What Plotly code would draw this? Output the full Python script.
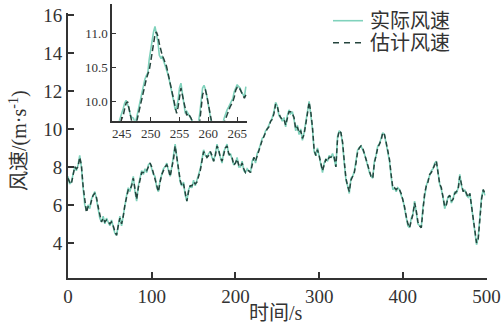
import plotly.graph_objects as go

# ---- main chart data (t in s, wind speed in m/s) ----
t_main = list(range(0, 500, 2))
actual = [7.5,7.1,7.2,7.7,8.0,7.8,8.1,8.6,8.0,6.9,
 6.0,5.7,6.0,5.8,6.3,6.5,6.7,6.3,5.8,5.3,
 5.1,5.4,5.0,5.3,5.1,4.9,5.2,4.8,4.5,4.4,
 5.0,5.4,4.9,5.5,6.0,6.5,6.9,6.7,7.1,7.5,
 6.7,6.2,7.0,7.4,7.8,7.6,7.9,7.7,8.1,8.2,
 7.9,7.6,7.5,6.9,6.7,7.3,7.6,7.9,8.0,8.2,
 7.8,7.5,8.0,8.5,9.2,8.5,7.8,7.2,7.0,7.2,
 6.5,6.2,6.8,7.0,6.9,7.3,7.0,7.3,7.5,7.9,
 8.4,8.9,8.6,8.5,8.7,8.8,8.5,8.3,8.7,9.2,
 8.8,8.5,8.2,8.8,9.0,9.2,8.6,8.7,8.4,8.1,
 8.2,8.5,8.0,8.0,8.3,7.8,7.7,7.9,7.8,7.7,
 8.3,8.5,8.2,8.7,8.9,9.2,9.5,9.6,9.9,10.0,
 10.2,10.4,10.6,10.9,11.4,11.2,10.7,10.6,10.4,10.6,
 10.1,10.7,11.0,10.8,10.9,10.5,9.9,10.2,9.7,10.0,
 9.4,9.8,10.5,10.9,11.45,10.8,10.0,8.8,8.6,9.0,
 8.5,8.1,7.7,8.2,8.4,8.3,8.6,8.5,8.7,8.4,
 8.0,9.6,9.9,9.8,9.2,8.2,7.3,7.0,6.6,7.4,
 7.5,7.75,8.3,8.9,9.0,9.1,8.9,8.7,8.4,8.0,
 7.7,7.5,7.4,8.3,8.6,9.1,9.2,9.5,9.8,9.7,
 9.25,8.9,8.3,7.5,6.8,6.9,6.7,6.9,6.8,6.5,
 6.3,5.8,5.4,4.9,4.8,5.3,5.5,6.2,5.6,5.0,
 4.9,4.8,5.9,6.6,7.0,7.3,7.6,7.8,7.9,8.2,
 8.3,7.6,7.1,6.8,6.4,5.8,6.1,6.4,6.5,6.1,
 6.3,6.7,6.6,6.9,7.6,7.0,6.7,6.8,6.5,6.4,
 6.6,5.9,5.2,4.6,3.9,4.3,5.5,6.4,6.8,6.5]
estimated = [7.4,7.2,7.1,7.6,8.0,7.9,8.0,8.5,8.1,7.0,
 6.1,5.6,5.9,5.9,6.2,6.5,6.6,6.4,5.9,5.4,
 5.1,5.3,5.1,5.2,5.1,5.0,5.1,4.9,4.6,4.4,
 4.9,5.3,5.0,5.4,6.0,6.4,6.8,6.8,7.0,7.4,
 6.8,6.3,6.9,7.4,7.7,7.7,7.8,7.8,8.0,8.2,
 8.0,7.7,7.4,7.0,6.7,7.2,7.6,7.8,8.0,8.1,
 7.9,7.5,7.9,8.4,9.1,8.6,7.9,7.3,7.0,7.1,
 6.6,6.2,6.7,7.0,7.0,7.2,7.1,7.2,7.5,7.8,
 8.3,8.8,8.7,8.5,8.6,8.8,8.6,8.3,8.6,9.1,
 8.9,8.5,8.3,8.7,9.0,9.1,8.7,8.6,8.5,8.1,
 8.2,8.4,8.1,8.0,8.2,7.9,7.7,7.8,7.8,7.7,
 8.2,8.5,8.3,8.6,8.9,9.1,9.4,9.6,9.8,10.0,
 10.1,10.4,10.5,10.8,11.3,11.2,10.8,10.6,10.5,10.5,
 10.2,10.6,10.9,10.9,10.8,10.6,10.0,10.1,9.8,9.9,
 9.5,9.7,10.4,10.8,11.4,10.9,10.1,8.9,8.6,8.9,
 8.6,8.1,7.8,8.1,8.4,8.3,8.5,8.5,8.6,8.5,
 8.0,9.5,9.9,9.8,9.3,8.3,7.4,7.0,6.7,7.3,
 7.5,7.7,8.2,8.8,9.0,9.1,9.0,8.7,8.5,8.1,
 7.8,7.5,7.4,8.2,8.6,9.0,9.2,9.4,9.8,9.7,
 9.3,8.9,8.4,7.6,6.9,6.9,6.8,6.9,6.8,6.6,
 6.3,5.9,5.4,5.0,4.8,5.2,5.5,6.1,5.7,5.1,
 4.9,4.8,5.8,6.6,7.0,7.2,7.6,7.7,7.9,8.1,
 8.3,7.7,7.1,6.9,6.4,5.9,6.0,6.4,6.5,6.2,
 6.3,6.6,6.7,6.8,7.5,7.1,6.7,6.8,6.6,6.4,
 6.6,6.0,5.3,4.7,4.0,4.2,5.4,6.3,6.8,6.6]

# ---- inset data (244 s .. 266.5 s, step 0.25 s) ----
t_inset = [244 + 0.25 * i for i in range(91)]
actual_inset = [9.60,9.62,9.70,9.76, 9.83,9.90,9.98,10.02, 9.96,9.90,9.80,9.77,
 9.76,9.70,9.74,9.84, 9.95,10.06,10.17,10.27, 10.33,10.38,10.42,10.62,
 10.78,10.88,11.02,11.10, 11.00,10.88,10.68,10.64, 10.66,10.60,10.54,10.48,
 10.40,10.31,10.22,10.12, 10.00,9.88,9.92,10.02, 10.20,10.27,10.12,9.98,
 9.83,9.86,9.82,9.78, 9.74,9.69,9.66,9.64, 9.65,9.68,9.82,10.06,
 10.20,10.24,10.18,10.08, 9.93,9.77,9.70,9.64, 9.60,9.58,9.60,9.62,
 9.60,9.63,9.68,9.76, 9.83,9.88,9.92,9.97, 10.00,10.05,10.15,10.20,
 10.25,10.22,10.20,10.14, 10.10,10.07,10.22]
est_inset = [9.58,9.60,9.65,9.70, 9.76,9.80,9.90,9.98, 10.00,9.90,9.78,9.70,
 9.66,9.64,9.68,9.78, 9.86,9.96,10.06,10.17, 10.26,10.33,10.40,10.46,
 10.58,10.70,10.84,10.98, 11.02,10.96,10.85,10.74, 10.68,10.63,10.57,10.52,
 10.42,10.32,10.22,10.10, 9.98,9.88,9.83,9.92, 10.05,10.20,10.10,10.00,
 9.86,9.80,9.83,9.80, 9.76,9.70,9.66,9.63, 9.62,9.64,9.70,9.88,
 10.10,10.16,10.17,10.08, 9.96,9.83,9.70,9.62, 9.58,9.56,9.57,9.60,
 9.60,9.61,9.64,9.70, 9.76,9.80,9.86,9.92, 9.96,10.00,10.07,10.17,
 10.21,10.22,10.18,10.13, 10.08,10.05,10.10]

series_names = ["实际风速", "估计风速"]
x_ticks = [0, 100, 200, 300, 400, 500]
y_ticks = [4, 6, 8, 10, 12, 14, 16]
xi_ticks = [245, 250, 255, 260, 265]
yi_ticks = [10.0, 10.5, 11.0]

C_ACT = "#80d2bc"
C_EST = "#24443d"
AX = "#333333"
FONT = "Liberation Serif, Noto Sans CJK SC"
W, H = 501, 328
DASH_EST = "5px,3px"

fig = go.Figure()
fig.add_trace(go.Scatter(x=t_main, y=actual, mode="lines", name=series_names[0],
                         line=dict(color=C_ACT, width=1.6)))
fig.add_trace(go.Scatter(x=t_main, y=estimated, mode="lines", name=series_names[1],
                         line=dict(color=C_EST, width=1.5, dash=DASH_EST)))
fig.add_trace(go.Scatter(x=t_inset, y=actual_inset, mode="lines",
                         xaxis="x2", yaxis="y2", line=dict(color=C_ACT, width=1.6)))
fig.add_trace(go.Scatter(x=t_inset, y=est_inset, mode="lines",
                         xaxis="x2", yaxis="y2",
                         line=dict(color=C_EST, width=1.5, dash="6px,3px")))

axis_common = dict(showgrid=False, zeroline=False, showline=True, linecolor=AX,
                   ticks="inside", tickcolor=AX, fixedrange=True,
                   ticklabeloverflow="allow", automargin=False)

# legend drawn as decoration (sample lines + labels) at the reference position
legend_rows = [(20.7, C_ACT, "solid", 1.6), (42.7, C_EST, "6px,5px", 1.5)]
shapes = []
annotations = []
for (py, col, dsh, lw), name in zip(legend_rows, series_names):
    shapes.append(dict(type="line", xref="paper", yref="paper",
                       x0=333/W, x1=363/W, y0=1-py/H, y1=1-py/H,
                       line=dict(color=col, width=lw, dash=dsh)))
    annotations.append(dict(text=name, x=368/W, y=1-py/H, xref="paper", yref="paper",
                            xanchor="left", yanchor="middle", showarrow=False,
                            font=dict(family=FONT, size=20, color=AX)))

annotations += [
    dict(text="时间/s", x=276/W, y=1-313/H, xref="paper", yref="paper",
         xanchor="center", yanchor="middle", showarrow=False,
         font=dict(family=FONT, size=20, color=AX)),
    dict(text="风速/(m·s<sup>-1</sup>)", x=18/W, y=1-141/H, xref="paper",
         yref="paper", xanchor="center", yanchor="middle", showarrow=False,
         textangle=-90, font=dict(family=FONT, size=20, color=AX)),
]

fig.update_layout(
    width=W, height=H,
    margin=dict(l=0, r=0, t=0, b=0, pad=0),
    paper_bgcolor="white", plot_bgcolor="rgba(0,0,0,0)",
    font=dict(family=FONT, color=AX),
    showlegend=False,
    xaxis=dict(domain=[68/W, 487/W], range=[0, 500.5], tickvals=x_ticks,
               linewidth=2, ticklen=6, tickwidth=1.5,
               tickfont=dict(family=FONT, size=19, color=AX), **axis_common),
    yaxis=dict(domain=[1-278/H, 1-13/H], range=[2.15, 16.1], tickvals=y_ticks,
               linewidth=2, ticklen=6, tickwidth=1.5,
               tickfont=dict(family=FONT, size=19, color=AX), **axis_common),
    xaxis2=dict(domain=[112/W, 247/W], range=[243.3, 266.7], anchor="y2",
                tickvals=xi_ticks, linewidth=1.5, ticklen=4, tickwidth=1.2,
                tickfont=dict(family=FONT, size=13, color=AX), **axis_common),
    yaxis2=dict(domain=[1-120.7/H, 1-4.3/H], range=[9.722, 11.424], anchor="x2",
                tickvals=yi_ticks, tickformat=".1f", linewidth=1.5, ticklen=4,
                tickwidth=1.2, tickfont=dict(family=FONT, size=13, color=AX),
                **axis_common),
    shapes=shapes,
    annotations=annotations,
)

fig.write_html("out.html")
